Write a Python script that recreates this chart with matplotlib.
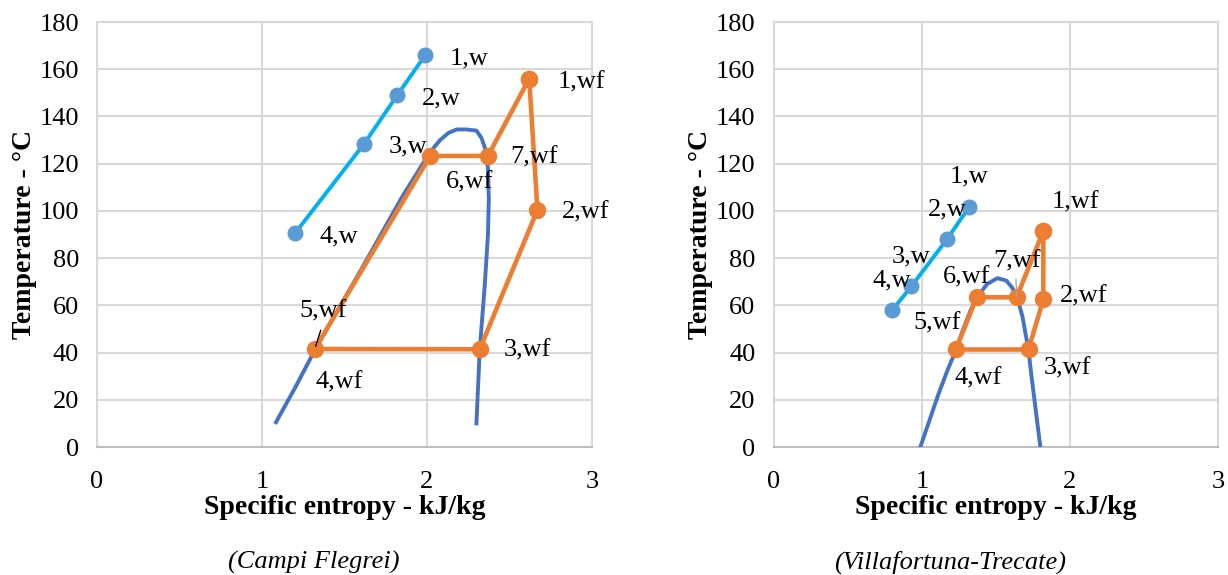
import matplotlib.pyplot as plt

plt.rcParams['font.family'] = ['Liberation Serif', 'DejaVu Serif']

# Campi Flegrei
cf_w_s = [1.99, 1.82, 1.62, 1.20]
cf_w_t = [166, 149, 128.5, 90.5]
cf_w_lab = ['1,w', '2,w', '3,w', '4,w']

cf_wf_s = [2.62, 2.67, 2.32, 1.32, 2.02, 2.37, 2.62]
cf_wf_t = [156, 100.4, 41.4, 41.5, 123.3, 123.3, 156]

cf_dome_s = [1.085, 1.20, 1.32, 1.60, 1.85, 2.02, 2.08, 2.13, 2.18, 2.24, 2.30, 2.33, 2.355, 2.37, 2.375, 2.37, 2.35, 2.32, 2.30]
cf_dome_t = [10.5, 25, 41, 75, 106, 125, 130, 133, 134.5, 134.5, 134, 131, 126, 118, 105, 90, 68, 41, 10]

# Villafortuna-Trecate
vt_w_s = [1.32, 1.17, 0.93, 0.80]
vt_w_t = [101.7, 88, 68.1, 57.9]
vt_w_lab = ['1,w', '2,w', '3,w', '4,w']

vt_wf_s = [1.82, 1.82, 1.72, 1.23, 1.37, 1.64, 1.82]
vt_wf_t = [91.5, 62.5, 41.3, 41.3, 63.4, 63.4, 91.5]

vt_dome_s = [0.99, 1.05, 1.11, 1.17, 1.23, 1.28, 1.33, 1.38, 1.44, 1.51, 1.57, 1.61, 1.65, 1.68, 1.70, 1.72, 1.74, 1.77, 1.80]
vt_dome_t = [0, 11, 22, 32, 41, 50, 58, 64, 69, 71.5, 70.5, 67.5, 62, 55, 48, 41, 30, 15, 0]

blue_line = '#00B0F0'
blue_mark = '#5B9BD5'
orange = '#ED7D31'
dome_col = '#4472C4'
grid_col = '#D9D9D9'

fig = plt.figure(figsize=(12.28, 5.75), dpi=100)
ax1 = fig.add_axes([0.079, 0.2226, 0.403, 0.7391])
ax2 = fig.add_axes([0.630, 0.2226, 0.362, 0.7391])


def base(ax):
    ax.set_xlim(0, 3)
    ax.set_ylim(0, 180)
    ax.set_xticks([0, 1, 2, 3])
    ax.set_yticks(range(0, 181, 20))
    ax.grid(True, color=grid_col, linewidth=1.5)
    ax.set_axisbelow(True)
    for sp in ax.spines.values():
        sp.set_color(grid_col)
        sp.set_linewidth(1.5)
    ax.spines['bottom'].set_color('#BFBFBF')
    ax.tick_params(length=0, labelsize=19, pad=13)
    ax.tick_params(axis='x', pad=17)
    ax.set_xlabel('Specific entropy - kJ/kg', fontsize=20, fontweight='bold', labelpad=2)
    ax.set_ylabel('Temperature - °C', fontsize=20, fontweight='bold', labelpad=2)


def lab(ax, txt, s, t, dx, dy):
    # offset in pixels (dpi 100) -> points
    ax.annotate(txt, (s, t), xytext=(dx * 0.72, dy * 0.72), textcoords='offset points',
                ha='center', va='center', fontsize=19, zorder=6)


base(ax1)
ax1.plot(cf_dome_s, cf_dome_t, color=dome_col, linewidth=2.8, zorder=3)
ax1.plot(cf_w_s, cf_w_t, color=blue_line, linewidth=2.8, marker='o', markersize=10.5,
         markerfacecolor=blue_mark, markeredgecolor=blue_mark, zorder=4)
ax1.plot(cf_wf_s, cf_wf_t, color=orange, linewidth=3.3, marker='o', markersize=11.5,
         markerfacecolor=orange, markeredgecolor=orange, zorder=5)

for i, txt in enumerate(cf_w_lab):
    lab(ax1, txt, cf_w_s[i], cf_w_t[i], 44, -3)
lab(ax1, '1,wf', cf_wf_s[0], cf_wf_t[0], 52, -4)
lab(ax1, '2,wf', cf_wf_s[1], cf_wf_t[1], 48, -2)
lab(ax1, '3,wf', cf_wf_s[2], cf_wf_t[2], 48, -1)
lab(ax1, '4,wf', cf_wf_s[3], cf_wf_t[3], 24, -33)
lab(ax1, '5,wf', cf_wf_s[3], cf_wf_t[3], 8, 38)
lab(ax1, '6,wf', cf_wf_s[4], cf_wf_t[4], 39, -27)
lab(ax1, '7,wf', cf_wf_s[5], cf_wf_t[5], 46, -2)
ax1.annotate('', (cf_wf_s[3], cf_wf_t[3]), xytext=(4.3, 13.5), textcoords='offset points',
             arrowprops=dict(arrowstyle='-', color='black', linewidth=1, shrinkA=0, shrinkB=2), zorder=6)

base(ax2)
ax2.plot(vt_dome_s, vt_dome_t, color=dome_col, linewidth=2.8, zorder=3)
ax2.plot(vt_w_s, vt_w_t, color=blue_line, linewidth=2.8, marker='o', markersize=10.5,
         markerfacecolor=blue_mark, markeredgecolor=blue_mark, zorder=4)
ax2.plot(vt_wf_s, vt_wf_t, color=orange, linewidth=3.3, marker='o', markersize=11.5,
         markerfacecolor=orange, markeredgecolor=orange, zorder=5)

for i, txt in enumerate(vt_w_lab):
    lab(ax2, txt, vt_w_s[i], vt_w_t[i], 0, 30)
lab(ax2, '1,wf', vt_wf_s[0], vt_wf_t[0], 32, 29)
lab(ax2, '2,wf', vt_wf_s[1], vt_wf_t[1], 40, 3)
lab(ax2, '3,wf', vt_wf_s[2], vt_wf_t[2], 39, -19)
lab(ax2, '4,wf', vt_wf_s[3], vt_wf_t[3], 22, -29)
lab(ax2, '5,wf', vt_wf_s[3], vt_wf_t[3], -19, 26)
lab(ax2, '6,wf', vt_wf_s[4], vt_wf_t[4], -10, 20)
lab(ax2, '7,wf', vt_wf_s[5], vt_wf_t[5], 0, 36)
ax2.annotate('', (vt_wf_s[5], vt_wf_t[5]), xytext=(-0.5, 13), textcoords='offset points',
             arrowprops=dict(arrowstyle='-', color='#A6A6A6', linewidth=1, shrinkA=0, shrinkB=1), zorder=6)

fig.text(314 / 1228, 1 - 562 / 575, '(Campi Flegrei)', ha='center', va='center',
         fontsize=19, style='italic')
fig.text(950 / 1228, 1 - 562 / 575, '(Villafortuna-Trecate)', ha='center', va='center',
         fontsize=19, style='italic')

fig.savefig('out.png', dpi=100)
